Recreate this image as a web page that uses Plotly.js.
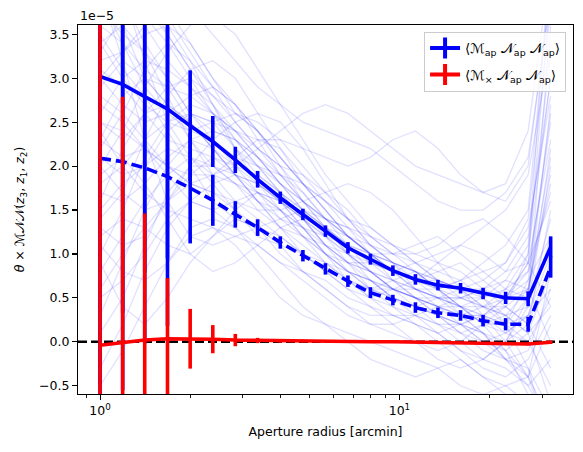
<!DOCTYPE html>
<html><head><meta charset="utf-8">
<script src="https://cdn.plot.ly/plotly-3.0.1.min.js"></script>
<style>html,body{margin:0;padding:0;background:#fff}#chart{width:583px;height:452px}</style>
</head><body><div id="chart"></div>
<script>
// aperture radii [arcmin]
var radius = [1.0,1.19,1.41,1.68,2.0,2.38,2.83,3.36,4.0,4.76,5.66,6.73,8.0,9.51,11.31,13.45,16.0,19.03,22.63,26.91,32.0];
// values in units of 1e-5
var mapNN = [3.02,2.93,2.79,2.65,2.46,2.28,2.07,1.85,1.64,1.45,1.26,1.07,0.94,0.81,0.71,0.645,0.61,0.55,0.50,0.49,1.08];
var mapNN_dashed = [2.09,2.05,1.98,1.88,1.75,1.61,1.45,1.30,1.13,0.98,0.83,0.69,0.56,0.475,0.39,0.33,0.30,0.24,0.20,0.20,0.85];
var mapNN_err = [3.5,2.6,2.0,1.7,0.63,0.29,0.15,0.095,0.07,0.065,0.065,0.065,0.062,0.06,0.06,0.06,0.06,0.065,0.07,0.085,0.12];
var mxNN = [-0.04,-0.01,0.02,0.035,0.035,0.03,0.02,0.015,0.01,0.01,0.005,0.0,0.0,0.0,-0.005,-0.01,-0.015,-0.02,-0.025,-0.025,-0.005];
var mxNN_err = [4.0,2.8,1.44,0.69,0.34,0.16,0.07,0.03,0.02,0.015,0.012,0.01,0.01,0.01,0.01,0.01,0.01,0.012,0.012,0.015,0.02];
// individual realisations (units of 1e-5)
var realisations = [
[3.8,3.5,3.3,3.0,2.6,2.4,2.3,2.0,1.7,1.5,1.3,1.2,1.0,0.9,0.8,0.6,0.5,0.6,0.4,0.2,1.5],
[2.2,2.6,3.1,3.4,3.2,2.7,2.2,1.8,1.6,1.3,1.0,0.8,0.7,0.5,0.4,0.5,0.3,0.1,-0.2,-0.4,0.8],
[4.5,4.0,3.2,2.5,2.1,1.9,1.8,1.6,1.5,1.3,1.1,0.9,0.8,0.6,0.7,0.9,1.1,1.0,0.8,1.2,3.0],
[1.5,1.8,2.0,2.4,2.6,2.5,2.2,2.0,1.7,1.4,1.2,0.9,0.6,0.4,0.3,0.2,0.0,-0.2,-0.3,-0.5,-1.0],
[3.2,3.3,3.5,3.6,3.4,3.0,2.6,2.4,2.1,1.8,1.5,1.2,1.0,0.8,0.7,0.6,0.7,0.8,0.6,0.5,2.2],
[0.8,1.2,1.6,1.9,2.1,2.0,1.8,1.5,1.3,1.2,1.1,1.0,0.8,0.7,0.5,0.3,0.2,0.3,0.5,0.9,4.0],
[2.8,2.6,2.3,2.0,1.8,1.7,1.5,1.3,1.0,0.8,0.6,0.4,0.2,0.1,0.0,-0.1,0.0,0.2,0.3,0.1,-0.7],
[4.2,4.4,4.1,3.7,3.3,2.9,2.5,2.2,2.0,1.9,1.7,1.5,1.2,1.0,0.8,0.7,0.6,0.4,0.3,0.6,1.8],
[1.9,2.1,2.2,2.0,1.8,1.9,2.1,2.3,2.2,1.9,1.6,1.3,1.0,0.9,0.8,0.6,0.4,0.3,0.1,0.0,0.5],
[3.0,2.7,2.5,2.6,2.8,2.9,2.7,2.4,2.0,1.6,1.3,1.1,1.0,1.0,1.1,1.2,1.0,0.8,0.9,1.4,3.8],
[2.4,2.0,1.7,1.5,1.4,1.3,1.2,1.1,0.9,0.7,0.5,0.3,0.2,0.2,0.3,0.1,-0.1,-0.3,-0.4,-0.2,0.3],
[5.0,4.6,4.0,3.5,3.1,2.8,2.6,2.5,2.3,2.0,1.7,1.4,1.1,0.9,0.6,0.4,0.3,0.4,0.6,0.8,2.5],
[0.3,0.9,1.5,2.0,2.3,2.4,2.3,2.1,1.8,1.5,1.2,1.0,0.9,0.8,0.6,0.5,0.5,0.4,0.2,-0.3,-1.2],
[3.5,3.1,2.8,2.4,2.0,1.6,1.4,1.3,1.4,1.5,1.4,1.2,1.0,0.7,0.5,0.4,0.3,0.3,0.5,0.7,1.2],
[2.0,2.4,2.9,3.3,3.6,3.7,3.5,3.1,2.7,2.3,1.9,1.6,1.3,1.1,0.9,0.8,0.7,0.5,0.2,0.0,-0.5],
[4.0,3.6,3.0,2.7,2.5,2.2,1.9,1.6,1.3,1.1,0.9,0.8,0.7,0.6,0.4,0.2,0.1,0.2,0.4,1.0,4.5],
[1.2,1.4,1.3,1.1,1.0,1.2,1.5,1.7,1.6,1.4,1.1,0.8,0.6,0.5,0.4,0.3,0.2,0.0,-0.2,-0.1,0.6],
[2.6,3.0,3.2,3.1,2.9,2.6,2.3,2.1,1.9,1.8,1.6,1.4,1.3,1.1,0.9,0.7,0.6,0.7,0.9,1.3,2.8],
[3.9,3.4,2.9,2.6,2.4,2.3,2.0,1.7,1.4,1.2,1.0,0.7,0.5,0.3,0.2,0.1,0.2,0.1,-0.1,-0.4,-0.9],
[1.7,1.6,1.8,2.1,2.3,2.2,1.9,1.7,1.5,1.3,1.0,0.9,0.9,0.8,0.7,0.8,0.9,0.7,0.5,0.6,1.9],
[4.8,4.2,3.6,3.2,2.9,2.7,2.4,2.1,1.8,1.6,1.4,1.2,1.1,0.9,0.8,0.6,0.4,0.2,0.1,0.3,1.0],
[2.9,3.2,3.0,2.7,2.3,2.0,1.8,1.7,1.5,1.2,0.9,0.7,0.6,0.7,0.8,0.7,0.5,0.4,0.4,0.2,-0.3],
[0.6,1.0,1.3,1.6,1.8,1.7,1.6,1.4,1.2,1.0,0.9,0.7,0.5,0.4,0.2,0.1,-0.1,-0.2,0.0,0.4,2.0],
[3.3,3.7,4.0,3.8,3.4,3.0,2.7,2.3,1.9,1.6,1.4,1.3,1.2,1.0,0.9,0.7,0.6,0.6,0.7,1.1,3.3],
[2.1,1.9,2.0,2.2,2.1,1.8,1.5,1.2,1.1,1.0,0.8,0.6,0.5,0.6,0.6,0.5,0.4,0.2,-0.1,-0.6,-1.5],
[3.6,3.4,3.1,2.9,2.8,2.6,2.4,2.2,2.0,1.7,1.4,1.2,1.0,0.8,0.6,0.5,0.5,0.6,0.8,0.9,1.6],
[1.0,1.5,2.1,2.5,2.7,2.6,2.4,2.1,1.8,1.5,1.3,1.1,1.0,0.9,0.8,0.6,0.3,0.1,0.0,0.2,0.9],
[4.3,3.9,3.4,3.0,2.6,2.3,2.1,2.0,1.9,1.7,1.4,1.1,0.8,0.6,0.5,0.5,0.6,0.5,0.3,0.1,0.4],
[2.5,2.3,2.6,2.9,3.0,2.8,2.5,2.2,1.9,1.6,1.3,1.0,0.8,0.6,0.5,0.4,0.3,0.3,0.2,0.5,3.6],
[3.1,2.9,2.6,2.3,2.2,2.1,1.9,1.6,1.4,1.3,1.2,1.1,0.9,0.7,0.6,0.5,0.4,0.5,0.7,0.6,0.0],
[1.4,1.7,2.3,2.8,3.1,3.2,3.0,2.6,2.2,1.8,1.5,1.2,1.0,0.8,0.7,0.6,0.4,0.2,0.2,0.7,2.6],
[4.6,4.1,3.7,3.4,3.0,2.6,2.2,1.9,1.7,1.5,1.3,1.0,0.8,0.6,0.5,0.4,0.2,0.0,-0.1,0.1,0.8],
[2.3,2.8,3.0,2.9,2.5,2.2,2.0,1.9,1.7,1.4,1.1,0.9,0.8,0.7,0.6,0.6,0.7,0.9,1.1,1.5,4.2],
[0.1,0.5,1.1,1.7,2.0,2.0,1.9,1.8,1.6,1.3,1.0,0.8,0.6,0.5,0.3,0.2,0.2,0.1,-0.2,-0.5,-0.2],
[3.4,3.0,2.7,2.5,2.4,2.5,2.6,2.4,2.1,1.8,1.5,1.2,1.0,0.8,0.7,0.7,0.6,0.4,0.3,0.4,1.4],
[5.2,4.7,4.1,3.6,3.2,2.9,2.7,2.4,2.1,1.8,1.6,1.4,1.2,1.1,1.0,0.9,0.8,0.6,0.5,0.9,2.3],
[1.6,2.2,2.6,2.7,2.5,2.2,1.9,1.6,1.3,1.0,0.8,0.6,0.4,0.3,0.3,0.4,0.5,0.5,0.6,1.0,3.0],
[2.7,2.5,2.2,1.9,1.6,1.5,1.6,1.7,1.6,1.4,1.2,1.0,0.7,0.5,0.4,0.3,0.1,-0.1,-0.2,-0.3,-0.8],
[3.7,3.9,3.8,3.5,3.1,2.7,2.3,2.0,1.8,1.6,1.4,1.3,1.1,0.9,0.7,0.5,0.4,0.4,0.5,0.8,1.7],
[2.0,1.7,1.5,1.6,1.9,2.1,2.0,1.8,1.5,1.2,1.0,0.8,0.7,0.6,0.5,0.4,0.4,0.3,0.2,0.3,0.6],
[1.8,2.0,2.3,2.5,2.6,2.5,2.4,2.3,2.3,2.2,2.1,2.0,2.1,2.3,2.4,2.2,1.9,1.7,1.6,2.0,4.0],
[2.5,2.4,2.2,2.0,1.9,1.9,2.0,2.2,2.4,2.6,2.7,2.6,2.4,2.2,2.0,1.9,1.8,1.7,1.8,2.4,4.3],
[3.0,3.3,3.6,3.9,3.8,3.5,3.2,2.9,2.7,2.5,2.4,2.3,2.2,2.0,1.8,1.6,1.5,1.5,1.7,2.1,3.9],
[0.5,0.7,1.0,1.4,1.6,1.5,1.3,1.0,0.7,0.4,0.2,0.0,-0.2,-0.3,-0.4,-0.3,-0.2,-0.4,-0.6,-0.8,-1.3],
[1.1,0.8,0.7,0.9,1.2,1.3,1.1,0.8,0.5,0.3,0.2,0.1,0.0,-0.1,-0.2,-0.3,-0.5,-0.6,-0.5,-0.7,-1.6],
[-0.3,0.2,0.8,1.3,1.6,1.8,1.9,1.8,1.6,1.4,1.1,0.9,0.7,0.5,0.4,0.3,0.1,0.0,0.1,0.3,1.2],
[0.9,0.4,0.2,0.5,0.9,1.2,1.4,1.3,1.1,0.8,0.6,0.4,0.3,0.3,0.2,0.0,-0.2,-0.4,-0.5,-0.4,0.2],
[4.0,3.2,2.3,1.6,1.2,1.1,1.2,1.3,1.2,1.0,0.8,0.7,0.6,0.6,0.5,0.3,0.2,0.3,0.4,0.6,2.1],
[-0.5,-0.1,0.4,0.9,1.3,1.4,1.3,1.1,0.9,0.8,0.7,0.5,0.4,0.2,0.0,-0.2,-0.3,-0.2,0.0,0.5,2.7],
[2.3,2.1,1.8,1.4,1.0,0.8,0.9,1.1,1.3,1.4,1.3,1.1,0.9,0.8,0.9,1.0,1.1,1.3,1.5,1.9,3.4],
[3.4,3.6,3.3,2.8,2.3,1.9,1.6,1.5,1.5,1.6,1.7,1.8,1.7,1.5,1.2,0.9,0.6,0.3,0.0,-0.4,-1.1],
[1.3,1.1,1.2,1.6,2.0,2.3,2.5,2.6,2.5,2.2,1.8,1.4,1.1,1.0,1.0,1.1,1.3,1.4,1.2,0.9,0.4]
];
var xTickVals = [1, 10];
var xTickText = ['10<sup>0</sup>', '10<sup>1</sup>'];
var yTickVals = [-0.5,0.0,0.5,1.0,1.5,2.0,2.5,3.0,3.5];
var legendLabels = ['⟨ℳ<sub>ap</sub> 𝒩<sub>ap</sub> 𝒩<sub>ap</sub>⟩', '⟨ℳ<sub>×</sub> 𝒩<sub>ap</sub> 𝒩<sub>ap</sub>⟩'];

var traces = [];
realisations.forEach(function(r){
  traces.push({x: radius, y: r, mode:'lines', line:{color:'rgba(0,0,255,0.12)', width:1.3}, showlegend:false, hoverinfo:'skip'});
});
traces.push({x: radius, y: mapNN, mode:'lines', line:{color:'#0000ff', width:3.6},
  error_y:{type:'data', array: mapNN_err, color:'#0000ff', thickness:3.6, width:0}, showlegend:false});
traces.push({x: radius, y: mapNN_dashed, mode:'lines', line:{color:'#0000ff', width:3.6, dash:'11px,5px'},
  error_y:{type:'data', array: mapNN_err, color:'#0000ff', thickness:3.6, width:0}, showlegend:false});
traces.push({x: radius, y: mxNN, mode:'lines', line:{color:'#ff0000', width:3.6},
  error_y:{type:'data', array: mxNN_err, color:'#ff0000', thickness:3.6, width:0}, showlegend:false});
// legend entries
traces.push({x:[null], y:[null], mode:'lines+markers', name: legendLabels[0], legendgroup:'a', line:{color:'#0000ff', width:4},
  marker:{symbol:'line-ns-open', size:15, color:'#0000ff', line:{color:'#0000ff', width:4}}});
traces.push({x:[null], y:[null], mode:'lines+markers', name: legendLabels[1], legendgroup:'b', line:{color:'#ff0000', width:4},
  marker:{symbol:'line-ns-open', size:15, color:'#ff0000', line:{color:'#ff0000', width:4}}});

var layout = {
  width:583, height:452,
  margin:{l:78, r:10, t:25, b:58},
  paper_bgcolor:'#fff', plot_bgcolor:'#fff',
  font:{family:'DejaVu Sans', size:12, color:'#000'},
  showlegend:true,
  legend:{x:0.986, y:0.982, xanchor:'right', yanchor:'top', bgcolor:'rgba(255,255,255,0.8)', bordercolor:'#cccccc', borderwidth:1,
    font:{size:13.5}, tracegroupgap:6},
  xaxis:{type:'log', range:[Math.log10(0.844), Math.log10(38.0)], tickvals:xTickVals, ticktext:xTickText,
    ticks:'outside', ticklen:5, tickwidth:1.1, tickcolor:'#000', showline:true, linecolor:'#000', linewidth:1.1, mirror:true,
    showgrid:false, zeroline:false, tickfont:{size:12.5},
    minor:{ticks:'outside', ticklen:3, tickwidth:0.9, tickcolor:'#000', dtick:'D1', showgrid:false},
    title:{text:'Aperture radius [arcmin]', standoff:10, font:{size:12.5}}},
  yaxis:{range:[-0.594, 3.606], tickvals:yTickVals, tickformat:'.1f',
    ticks:'outside', ticklen:5, tickwidth:1.1, tickcolor:'#000', showline:true, linecolor:'#000', linewidth:1.1, mirror:true,
    showgrid:false, zeroline:false, tickfont:{size:12.5},
    title:{text:'<i>θ</i> × ℳ𝒩𝒩(<i>z</i><sub>3</sub>, <i>z</i><sub>1</sub>, <i>z</i><sub>2</sub>)', standoff:11, font:{size:12.5}}},
  shapes:[{type:'line', xref:'paper', x0:0, x1:1, yref:'y', y0:0, y1:0, layer:'below', line:{color:'#000', width:2.6, dash:'9px,4px'}}],
  annotations:[{xref:'paper', yref:'paper', x:0, y:1, xanchor:'left', yanchor:'bottom', text:'1e−5', showarrow:false, font:{size:12.5}}]
};
Plotly.newPlot('chart', traces, layout, {displayModeBar:false, staticPlot:true});
</script></body></html>
